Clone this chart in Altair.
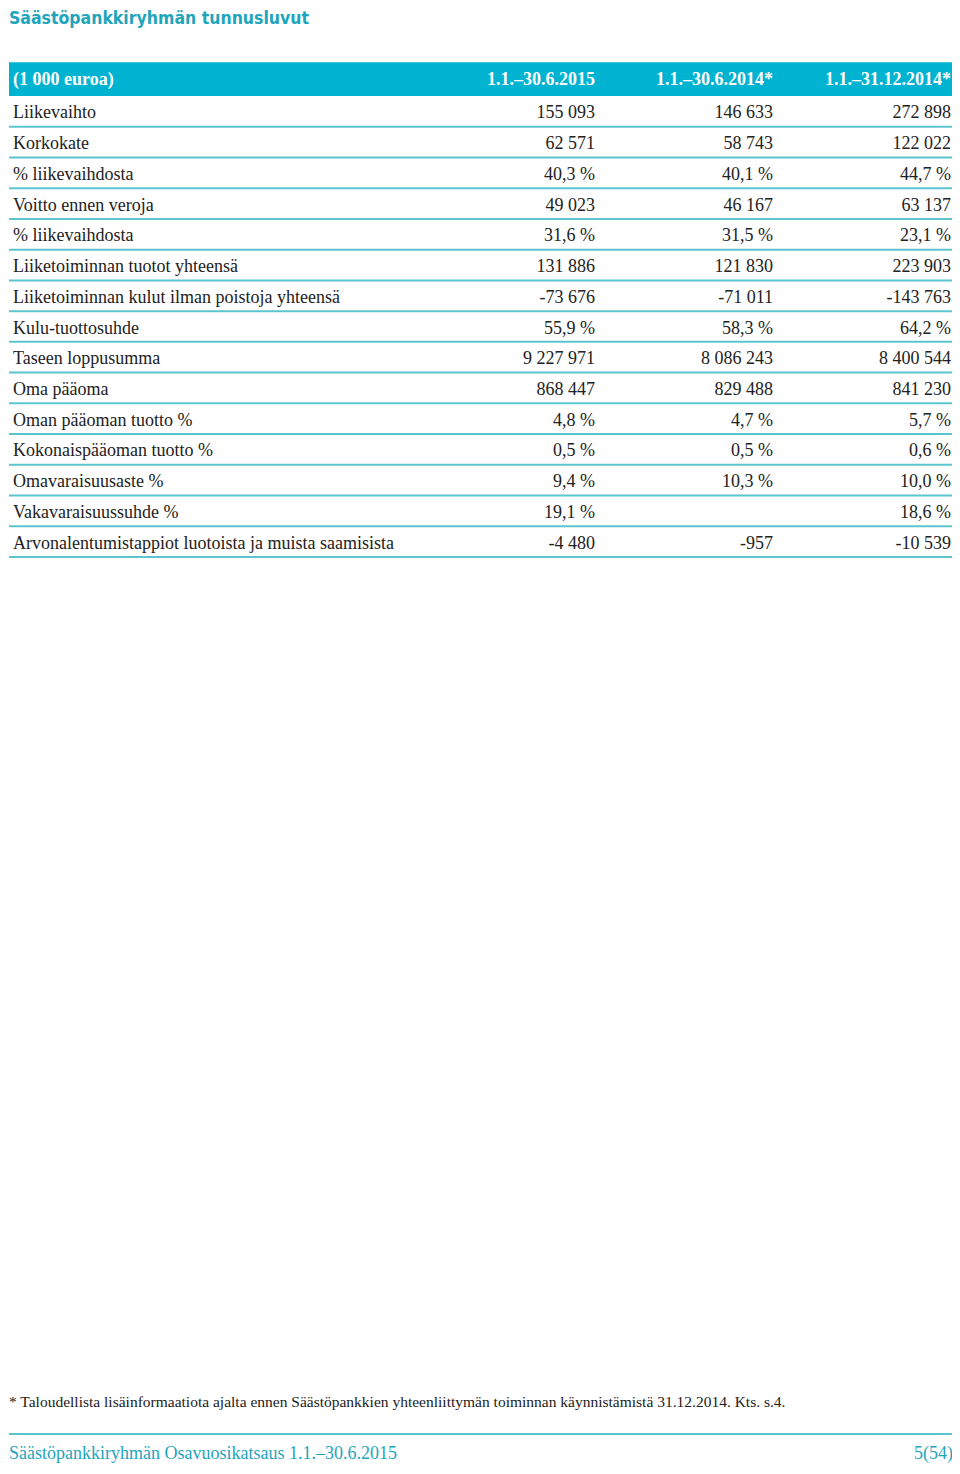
import altair as alt
import pandas as pd

# ---------------- data ----------------
title_text = "Säästöpankkiryhmän tunnusluvut"
unit_label = "(1 000 euroa)"
periods = ["1.1.–30.6.2015", "1.1.–30.6.2014*", "1.1.–31.12.2014*"]
row_labels = [
    "Liikevaihto",
    "Korkokate",
    "% liikevaihdosta",
    "Voitto ennen veroja",
    "% liikevaihdosta",
    "Liiketoiminnan tuotot yhteensä",
    "Liiketoiminnan kulut ilman poistoja yhteensä",
    "Kulu-tuottosuhde",
    "Taseen loppusumma",
    "Oma pääoma",
    "Oman pääoman tuotto %",
    "Kokonaispääoman tuotto %",
    "Omavaraisuusaste %",
    "Vakavaraisuussuhde %",
    "Arvonalentumistappiot luotoista ja muista saamisista",
]
kinds = ["n", "n", "p", "n", "p", "n", "n", "p", "n", "n", "p", "p", "p", "p", "n"]
h1_2015 = [155093, 62571, 40.3, 49023, 31.6, 131886, -73676, 55.9, 9227971, 868447, 4.8, 0.5, 9.4, 19.1, -4480]
h1_2014 = [146633, 58743, 40.1, 46167, 31.5, 121830, -71011, 58.3, 8086243, 829488, 4.7, 0.5, 10.3, None, -957]
fy_2014 = [272898, 122022, 44.7, 63137, 23.1, 223903, -143763, 64.2, 8400544, 841230, 5.7, 0.6, 10.0, 18.6, -10539]
footnote = ("* Taloudellista lisäinformaatiota ajalta ennen Säästöpankkien yhteenliittymän "
            "toiminnan käynnistämistä 31.12.2014. Kts. s.4.")
footer_left = "Säästöpankkiryhmän Osavuosikatsaus 1.1.–30.6.2015"
footer_right = "5(54)"

# ---------------- styling ----------------
W, H = 944, 1458
BAR = "#00b3d1"
LINE = "#5cc4cf"
TEAL = "#1ea5bb"
TXT = "#222222"
SERIF = "Liberation Serif"
FS = 18


def fmt(v, k):
    if v is None:
        return ""
    if k == "p":
        return f"{v:.1f}".replace(".", ",") + " %"
    return f"{int(v):,}".replace(",", " ")


cells = []
for i, lab in enumerate(row_labels):
    for c, series in enumerate([h1_2015, h1_2014, fy_2014], start=1):
        cells.append({"row": i + 0.5, "col": c, "txt": fmt(series[i], kinds[i])})
cells_df = pd.DataFrame(cells)
labels_df = pd.DataFrame({"row": [i + 0.5 for i in range(len(row_labels))], "label": row_labels})
edges_df = pd.DataFrame({"edge": [i + 1 for i in range(len(row_labels))]})
head_df = pd.DataFrame({"col": [1, 2, 3], "txt": periods})

yscale = alt.Scale(domain=[0, len(row_labels)], range=[88, 549], nice=False, zero=False)
xcol = alt.Scale(domain=[1, 3], range=[586, 942], nice=False, zero=False)

header_bar = alt.Chart(pd.DataFrame({"a": [0]})).mark_rect(color=BAR).encode(
    x=alt.value(0), x2=alt.value(W),
    y=alt.Y(datum=-1.1, scale=yscale, axis=None), y2=alt.Y2(datum=0),
)

header_unit = alt.Chart(pd.DataFrame({"t": [unit_label]})).mark_text(
    align="left", baseline="middle", font=SERIF, fontSize=FS, fontWeight="bold", color="white", dy=1
).encode(x=alt.value(4), y=alt.Y(datum=-0.55, scale=yscale, axis=None), text="t:N")

header_periods = alt.Chart(head_df).mark_text(
    align="right", baseline="middle", font=SERIF, fontSize=FS, fontWeight="bold", color="white", dy=1
).encode(
    x=alt.X("col:Q", scale=xcol, axis=None),
    y=alt.Y(datum=-0.55, scale=yscale, axis=None),
    text="txt:N",
)

rules = alt.Chart(edges_df).mark_rule(color=LINE, strokeWidth=2).encode(
    x=alt.value(0), x2=alt.value(W),
    y=alt.Y("edge:Q", scale=yscale, axis=None),
)

labels = alt.Chart(labels_df).mark_text(
    align="left", baseline="middle", font=SERIF, fontSize=FS, color=TXT, dy=2
).encode(
    x=alt.value(4),
    y=alt.Y("row:Q", scale=yscale, axis=None),
    text="label:N",
)

values = alt.Chart(cells_df).mark_text(
    align="right", baseline="middle", font=SERIF, fontSize=FS, color=TXT, dy=2
).encode(
    x=alt.X("col:Q", scale=xcol, axis=None),
    y=alt.Y("row:Q", scale=yscale, axis=None),
    text="txt:N",
)

title = alt.Chart(pd.DataFrame({"t": [title_text]})).mark_text(
    align="left", baseline="alphabetic",
    font="Liberation Sans Narrow, DejaVu Sans Condensed, Roboto Condensed, Arial Narrow, sans-serif",
    fontSize=17.5, fontWeight="bold", color=TEAL
).encode(x=alt.value(0), y=alt.value(16), text="t:N")

foot = alt.Chart(pd.DataFrame({"t": [footnote]})).mark_text(
    align="left", baseline="middle", font=SERIF, fontSize=15.5, color=TXT
).encode(x=alt.value(0), y=alt.value(1394), text="t:N")

foot_rule = alt.Chart(pd.DataFrame({"a": [0]})).mark_rule(color=LINE, strokeWidth=2).encode(
    x=alt.value(0), x2=alt.value(W), y=alt.value(1426)
)

foot_left = alt.Chart(pd.DataFrame({"t": [footer_left]})).mark_text(
    align="left", baseline="middle", font=SERIF, fontSize=18, color=TEAL
).encode(x=alt.value(0), y=alt.value(1446), text="t:N")

foot_right = alt.Chart(pd.DataFrame({"t": [footer_right]})).mark_text(
    align="right", baseline="middle", font=SERIF, fontSize=18, color=TEAL
).encode(x=alt.value(W), y=alt.value(1446), text="t:N")

chart = alt.layer(
    header_bar, rules, header_unit, header_periods, labels, values,
    title, foot, foot_rule, foot_left, foot_right
).properties(
    width=W, height=H, padding=0,
    autosize=alt.AutoSizeParams(type="fit", contains="padding"),
    background="white",
).configure_view(stroke=None)

chart.save("out.html", embed_options={"renderer": "svg", "actions": False})
